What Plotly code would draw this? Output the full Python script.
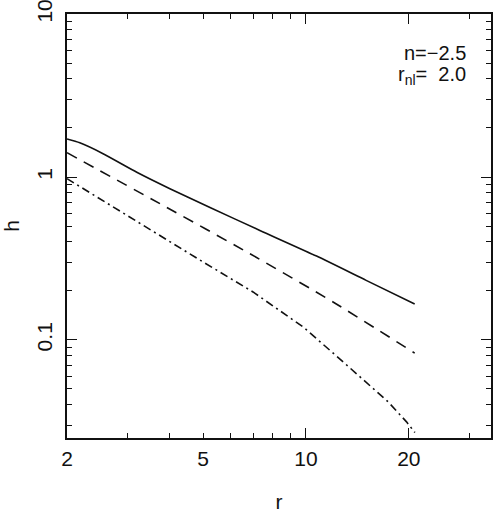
import plotly.graph_objects as go

# curves (log-log)
r_solid = [2.0, 2.18, 2.55, 3.2, 4.0, 5.24, 7.33, 10.74, 15.0, 20.8]
h_solid = [1.71, 1.62, 1.39, 1.07, 0.848, 0.65, 0.47, 0.327, 0.232, 0.166]

r_dash = [2.0, 3.74, 6.86, 12.0, 20.8]
h_dash = [1.41, 0.686, 0.338, 0.171, 0.083]

r_dashdot = [2.0, 3.74, 5.0, 7.0, 9.82, 12.85, 15.56, 17.39, 19.69, 20.83]
h_dashdot = [0.977, 0.436, 0.301, 0.197, 0.120, 0.0733, 0.051, 0.0417, 0.0314, 0.0270]

# x axis: labelled and short ticks, long ticks at 10 and 20
x_ticks = [2, 3, 4, 5, 6, 7, 8, 9, 10, 20, 30]
x_labels = ["2", "", "", "5", "", "", "", "", "10", "20", ""]
x_long = [10, 20]
# y axis: decades get long ticks
y_ticks = [0.03, 0.04, 0.05, 0.06, 0.07, 0.08, 0.09, 0.1,
           0.2, 0.3, 0.4, 0.5, 0.6, 0.7, 0.8, 0.9, 1,
           2, 3, 4, 5, 6, 7, 8, 9, 10]
y_long = [0.1, 1, 10]

font = "Liberation Sans, Arial, sans-serif"
ink = "#111111"
x_range = [0.30103, 1.5413]
y_range = [-1.602, 1.0005]

fig = go.Figure()
fig.add_trace(go.Scatter(x=r_solid, y=h_solid, mode="lines",
                         line=dict(color=ink, width=1.6, shape="spline", smoothing=0.6)))
fig.add_trace(go.Scatter(x=r_dash, y=h_dash, mode="lines",
                         line=dict(color=ink, width=1.6, dash="11px,8px", shape="spline", smoothing=0.6)))
fig.add_trace(go.Scatter(x=r_dashdot, y=h_dashdot, mode="lines",
                         line=dict(color=ink, width=1.6, dash="8px,4px,2px,4px")))
# empty trace so the overlay axes (long ticks) get drawn
fig.add_trace(go.Scatter(x=[], y=[], xaxis="x2", yaxis="y2", hoverinfo="skip"))

fig.add_annotation(x=0.946, y=0.908, xref="paper", yref="paper", xanchor="right",
                   yanchor="middle", showarrow=False, align="right",
                   text="n=\u22122.5", font=dict(family=font, size=20, color=ink))
fig.add_annotation(x=0.946, y=0.855, xref="paper", yref="paper", xanchor="right",
                   yanchor="middle", showarrow=False, align="right",
                   text="r<sub>nl</sub>=  2.0", font=dict(family=font, size=20, color=ink))

axis_common = dict(type="log", ticks="inside", tickwidth=1.3, tickcolor=ink,
                   showline=True, linecolor=ink, linewidth=1.5, mirror="ticks",
                   showgrid=False, zeroline=False, automargin=False)

fig.update_layout(
    xaxis=dict(
        axis_common, range=x_range,
        tickmode="array", tickvals=x_ticks, ticktext=x_labels, ticklen=5,
        ticklabelstandoff=1, ticklabeloverflow="allow",
        tickfont=dict(family=font, size=21, color=ink),
        title=dict(text="r", font=dict(family=font, size=21, color=ink), standoff=35),
    ),
    yaxis=dict(
        axis_common, range=y_range,
        tickmode="array", tickvals=y_ticks,
        ticktext=["0.1" if v == 0.1 else "1" if v == 1 else "10" if v == 10 else "" for v in y_ticks],
        tickangle=-90, ticklen=5, ticklabelstandoff=5, ticklabeloverflow="allow",
        tickfont=dict(family=font, size=21, color=ink),
        title=dict(text="h", font=dict(family=font, size=21, color=ink), standoff=39),
    ),
    xaxis2=dict(axis_common, range=x_range, overlaying="x", anchor="y2", side="bottom",
                tickmode="array", tickvals=x_long, ticklen=10, showticklabels=False),
    yaxis2=dict(axis_common, range=y_range, overlaying="y", anchor="x2", side="left",
                tickmode="array", tickvals=y_long, ticklen=10, showticklabels=False),
    width=494, height=513,
    margin=dict(l=67, r=3, t=14, b=75),
    plot_bgcolor="white", paper_bgcolor="white",
    showlegend=False,
)

# drop the default body margin so the figure fills the window
fig.write_html("out.html", config={"displayModeBar": False},
               post_script="document.body.style.margin='0';")
